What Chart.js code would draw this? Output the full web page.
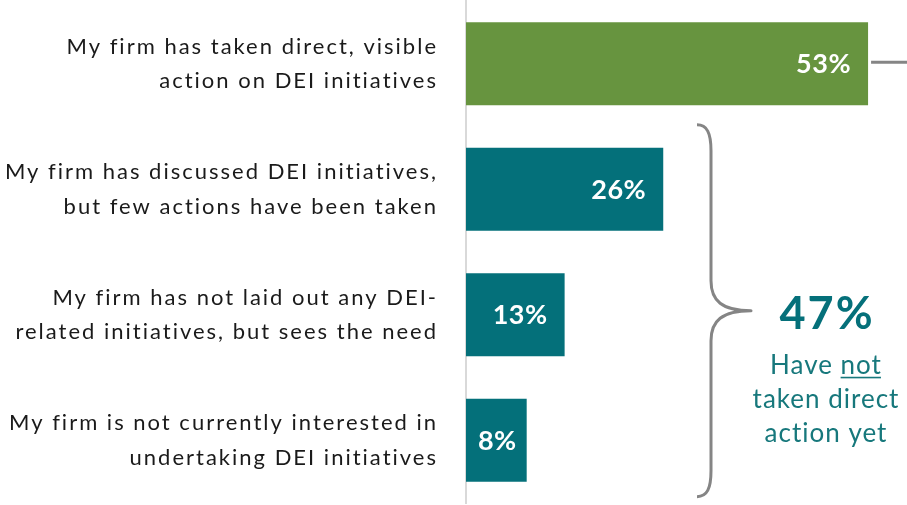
<!DOCTYPE html>
<html>
<head>
<meta charset="utf-8">
<script src="https://cdn.jsdelivr.net/npm/chart.js@4/dist/chart.umd.min.js"></script>
<style>
  html, body { margin: 0; padding: 0; background: #ffffff; }
  #wrap { width: 907px; height: 505px; position: relative; }
</style>
</head>
<body>
<div id="wrap"><canvas id="chart"></canvas></div>
<script>
// Survey answers (one row per bar, label split into lines)
const categories = [
  ["My firm has taken direct, visible", "action on DEI initiatives"],
  ["My firm has discussed DEI initiatives,", "but few actions have been taken"],
  ["My firm has not laid out any DEI-", "related initiatives, but sees the need"],
  ["My firm is not currently interested in", "undertaking DEI initiatives"]
];
const shares = [53, 26, 13, 8];
const tickValues = [0, 58];
const summaryValue = "47%";
const summaryLines = [["Have ", "not"], ["taken direct"], ["action yet"]];

const GREEN = '#67943f';
const TEAL = '#04707a';
const barColors = [GREEN, TEAL, TEAL, TEAL];
const FONT = 'Lato, "Noto Sans", sans-serif';

// Wider tracking for the category labels (axis is drawn before the bars)
const tracking = {
  id: 'tracking',
  beforeDraw(chart) { chart.ctx.letterSpacing = '2px'; },
  beforeDatasetsDraw(chart) { chart.ctx.letterSpacing = '0px'; }
};

// White value labels near the end of each bar; centred when the bar is short
const valueLabels = {
  id: 'valueLabels',
  afterDatasetsDraw(chart) {
    const ctx = chart.ctx;
    const meta = chart.getDatasetMeta(0);
    ctx.save();
    ctx.letterSpacing = '0.5px';
    ctx.fillStyle = '#ffffff';
    ctx.font = 'bold 27px ' + FONT;
    ctx.textBaseline = 'middle';
    meta.data.forEach((bar, i) => {
      const txt = shares[i] + '%';
      const tw = ctx.measureText(txt).width;
      const barW = bar.x - bar.base;
      if (barW < tw + 34) {
        ctx.textAlign = 'center';
        ctx.fillText(txt, (bar.x + bar.base) / 2 + 1, bar.y + 1);
      } else {
        ctx.textAlign = 'right';
        ctx.fillText(txt, bar.x - 17, bar.y + 1);
      }
    });
    ctx.restore();
  }
};

// Connector from the top bar, curly brace over the remaining bars, summary text
const braceNote = {
  id: 'braceNote',
  afterDraw(chart) {
    const ctx = chart.ctx;
    const meta = chart.getDatasetMeta(0);
    const first = meta.data[0];
    const right = chart.width;
    ctx.save();
    ctx.strokeStyle = '#858585';
    ctx.lineWidth = 3;
    ctx.beginPath();
    ctx.moveTo(first.x + 3, first.y - 1.5);
    ctx.lineTo(right, first.y - 1.5);
    ctx.stroke();

    const b1 = meta.data[1], b3 = meta.data[3];
    const top = b1.y - b1.height / 2 - 23;
    const bot = b3.y + b3.height / 2 + 15;
    const mid = (top + bot) / 2;
    const x0 = 697, xv = 711, xt = 751;
    ctx.lineWidth = 3;
    ctx.lineJoin = 'round';
    ctx.beginPath();
    ctx.moveTo(x0, top);
    ctx.bezierCurveTo(707, top, xv, top + 8, xv, top + 26);
    ctx.lineTo(xv, mid - 30);
    ctx.bezierCurveTo(xv, mid - 10, 722, mid, xt, mid);
    ctx.bezierCurveTo(722, mid, xv, mid + 10, xv, mid + 30);
    ctx.lineTo(xv, bot - 26);
    ctx.bezierCurveTo(xv, bot - 8, 707, bot, x0, bot);
    ctx.stroke();

    const cx = 826;
    ctx.fillStyle = '#05707a';
    ctx.textAlign = 'center';
    ctx.textBaseline = 'alphabetic';
    ctx.letterSpacing = '2px';
    ctx.font = 'bold 45px ' + FONT;
    ctx.fillText(summaryValue, cx + 1, mid + 18);

    ctx.letterSpacing = '1px';
    ctx.font = '26px ' + FONT;
    ctx.fillStyle = '#17787c';
    summaryLines.forEach((parts, i) => {
      const y = mid + 63 + i * 34;
      const full = parts.join('');
      const w = ctx.measureText(full).width;
      let x = cx - w / 2;
      ctx.textAlign = 'left';
      parts.forEach((p, j) => {
        ctx.fillText(p, x, y);
        const pw = ctx.measureText(p).width;
        if (j === 1) {
          ctx.fillRect(x, y + 3, pw - 1, 1.6);
        }
        x += pw;
      });
    });
    ctx.restore();
  }
};

new Chart(document.getElementById('chart'), {
  type: 'bar',
  data: {
    labels: categories,
    datasets: [{
      data: shares,
      backgroundColor: barColors,
      borderWidth: 0,
      barPercentage: 0.66,
      categoryPercentage: 1.0
    }]
  },
  options: {
    indexAxis: 'y',
    responsive: true,
    maintainAspectRatio: false,
    animation: false,
    layout: { padding: { top: 1, bottom: 2, left: 0, right: 1 } },
    plugins: { legend: { display: false }, tooltip: { enabled: false } },
    scales: {
      x: {
        min: tickValues[0],
        max: tickValues[1],
        display: false,
        grid: { display: false }
      },
      y: {
        grid: { display: false, drawTicks: false },
        border: { display: true, color: '#d9d9d9', width: 2 },
        afterFit(scale) {
          scale.width = 466;
          scale.paddingTop = 0;
          scale.paddingBottom = 0;
        },
        ticks: {
          padding: 28,
          color: '#1a1a1a',
          font: { family: FONT, size: 22, lineHeight: 1.56 },
          crossAlign: 'near'
        }
      }
    }
  },
  plugins: [tracking, valueLabels, braceNote]
});
</script>
</body>
</html>
